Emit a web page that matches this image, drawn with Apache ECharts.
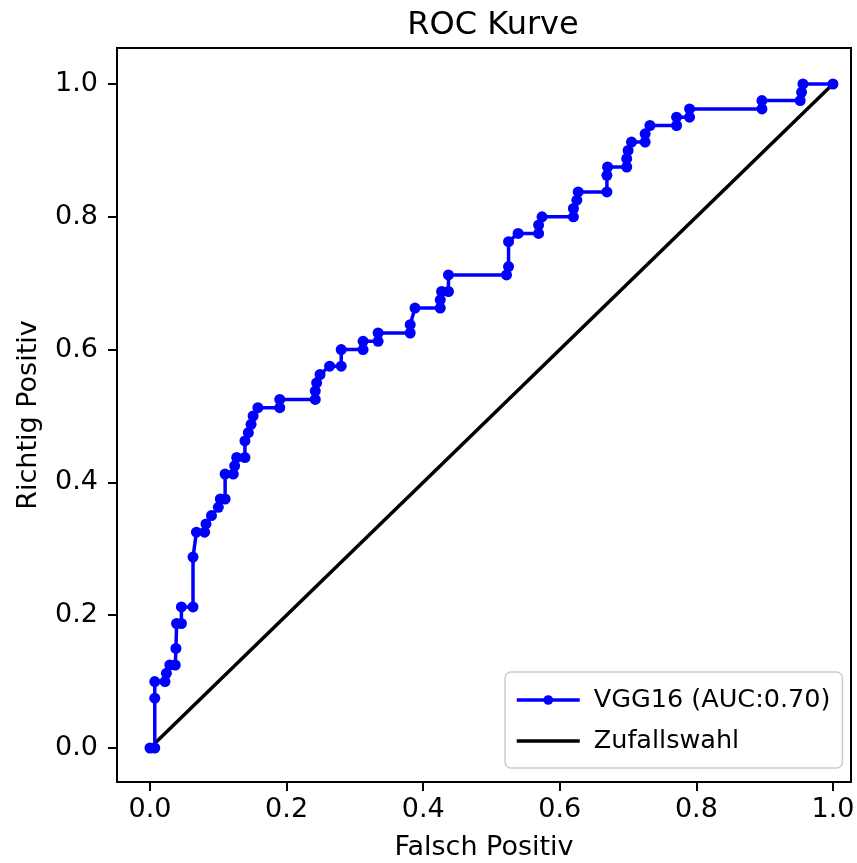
<!DOCTYPE html>
<html>
<head>
<meta charset="utf-8">
<script src="https://cdn.jsdelivr.net/npm/echarts@6/dist/echarts.min.js"></script>
<style>
	html, body { margin: 0; padding: 0; background: #fff; }
	#chart { width: 857px; height: 863px; }
</style>
</head>
<body>
<div id="chart"></div>
<script>
// ROC Kurve
const fpr = [0, 0.007, 0.007, 0.007, 0.022, 0.024, 0.029, 0.037, 0.038, 0.039, 0.046, 0.046, 0.063, 0.063,
	0.068, 0.080, 0.082, 0.090, 0.100, 0.103, 0.110, 0.110, 0.122, 0.124, 0.127, 0.139, 0.139, 0.144,
	0.148, 0.151, 0.158, 0.190, 0.190, 0.242, 0.242, 0.244, 0.249, 0.263, 0.280, 0.280, 0.312, 0.312,
	0.334, 0.334, 0.381, 0.381, 0.388, 0.425, 0.425, 0.427, 0.437, 0.437, 0.522, 0.525, 0.525, 0.539,
	0.569, 0.569, 0.574, 0.620, 0.620, 0.625, 0.627, 0.669, 0.669, 0.670, 0.698, 0.698, 0.700, 0.705,
	0.725, 0.725, 0.732, 0.771, 0.771, 0.790, 0.790, 0.896, 0.896, 0.952, 0.954, 0.956, 1.0];
const tpr = [0, 0, 0.075, 0.1, 0.1, 0.1125, 0.125, 0.125, 0.15, 0.1875, 0.1875, 0.2125, 0.2125, 0.2875,
	0.325, 0.325, 0.3375, 0.35, 0.3625, 0.375, 0.375, 0.4125, 0.4125, 0.425, 0.4375, 0.4375, 0.4625, 0.475,
	0.4875, 0.5, 0.5125, 0.5125, 0.525, 0.525, 0.5375, 0.55, 0.5625, 0.575, 0.575, 0.6, 0.6, 0.6125,
	0.6125, 0.625, 0.625, 0.6375, 0.6625, 0.6625, 0.675, 0.6875, 0.6875, 0.7125, 0.7125, 0.725, 0.7625, 0.775,
	0.775, 0.7875, 0.8, 0.8, 0.8125, 0.825, 0.8375, 0.8375, 0.8625, 0.875, 0.875, 0.8875, 0.9, 0.9125,
	0.9125, 0.925, 0.9375, 0.9375, 0.95, 0.95, 0.9625, 0.9625, 0.975, 0.975, 0.9875, 1.0, 1.0];
const randX = [0, 1];
const randY = [0, 1];
const xTicks = [0, 0.2, 0.4, 0.6, 0.8, 1.0];
const yTicks = [0, 0.2, 0.4, 0.6, 0.8, 1.0];

const names = ['VGG16 (AUC:0.70)', 'Zufallswahl'];
const font = 'DejaVu Sans';

let chart = echarts.init(document.getElementById('chart'));
let option = {
	animation: false,
	title: {
		text: 'ROC Kurve',
		left: 488,
		top: 5,
		textAlign: 'center',
		textStyle: { fontFamily: font, fontSize: 32, fontWeight: 'normal', color: '#000' }
	},
	// Rahmen = Plotbereich, Ränder wie bei matplotlib (~5%)
	grid: { left: 117, right: 6, top: 48, bottom: 81, outerBoundsMode: 'none' },
	legend: {
		data: [
			{ name: names[0] },
			{ name: names[1], itemStyle: { opacity: 0 } }
		],
		orient: 'vertical',
		left: 505,
		top: 672,
		itemWidth: 63,
		itemHeight: 12,
		itemGap: 11,
		padding: [13, 12, 12, 10],
		borderColor: '#cccccc',
		borderWidth: 1.5,
		borderRadius: 6,
		backgroundColor: 'rgba(255,255,255,0.8)',
		lineStyle: { width: 3.5 },
		textStyle: { fontFamily: font, fontSize: 25.5, color: '#000', lineHeight: 30, padding: [0, 0, 0, 9] }
	},
	xAxis: {
		type: 'value',
		min: -0.0483,
		max: 1.0264,
		name: 'Falsch Positiv',
		nameLocation: 'middle',
		nameGap: 52,
		nameTextStyle: { fontFamily: font, fontSize: 27, color: '#000' },
		axisLine: { show: true, onZero: false, lineStyle: { color: '#000', width: 2 } },
		axisTick: { show: true, length: 9, customValues: xTicks, lineStyle: { color: '#000', width: 2 } },
		axisLabel: {
			margin: 14,
			customValues: xTicks,
			fontFamily: font, fontSize: 27, color: '#000',
			formatter: v => v.toFixed(1)
		},
		splitLine: { show: false }
	},
	yAxis: {
		type: 'value',
		min: -0.0512,
		max: 1.0542,
		name: 'Richtig Positiv',
		nameLocation: 'middle',
		nameGap: 75,
		nameTextStyle: { fontFamily: font, fontSize: 27, color: '#000' },
		axisLine: { show: true, onZero: false, lineStyle: { color: '#000', width: 2 } },
		axisTick: { show: true, length: 9, customValues: yTicks, lineStyle: { color: '#000', width: 2 } },
		axisLabel: {
			margin: 19,
			customValues: yTicks,
			fontFamily: font, fontSize: 27, color: '#000',
			formatter: v => v.toFixed(1)
		},
		splitLine: { show: false }
	},
	graphic: [{
		type: 'rect',
		shape: { x: 117, y: 48, width: 734, height: 734 },
		style: { fill: null, stroke: '#000', lineWidth: 2 },
		silent: true,
		z: 100
	}],
	series: [
		{
			name: names[0],
			type: 'line',
			data: fpr.map((x, i) => [x, tpr[i]]),
			symbol: 'circle',
			symbolSize: 11,
			showSymbol: true,
			clip: false,
			itemStyle: { color: '#0000ff' },
			lineStyle: { color: '#0000ff', width: 3.5 },
			z: 3
		},
		{
			name: names[1],
			type: 'line',
			data: randX.map((x, i) => [x, randY[i]]),
			symbol: 'none',
			clip: false,
			itemStyle: { color: '#000' },
			lineStyle: { color: '#000', width: 3.5 },
			z: 2
		}
	]
};
chart.setOption(option);
window.addEventListener('resize', () => {
	chart.resize();
});
</script>
</body>
</html>
